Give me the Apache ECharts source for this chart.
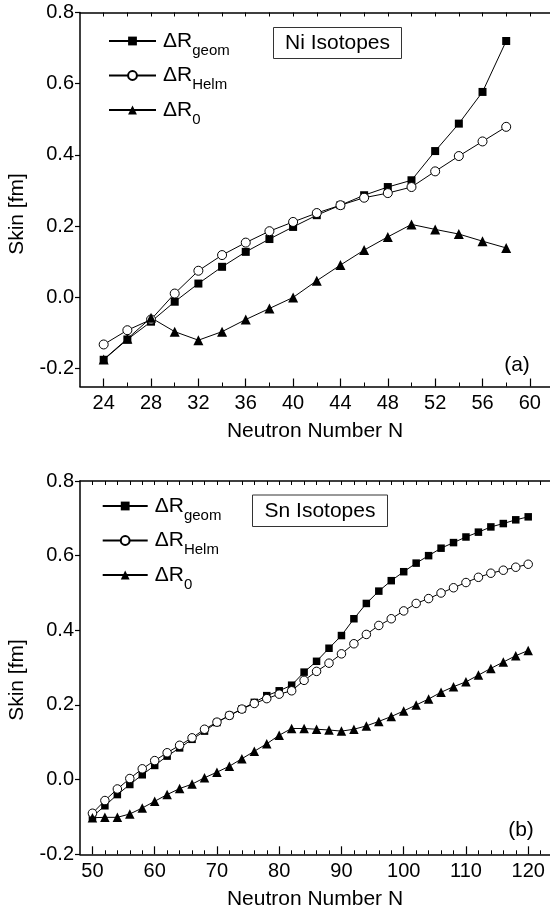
<!DOCTYPE html>
<html>
<head>
<meta charset="utf-8">
<script src="https://cdn.jsdelivr.net/npm/echarts@6/dist/echarts.min.js"></script>
<style>
  html, body { margin: 0; padding: 0; background: #fff; }
  #skin_chart { width: 550px; height: 920px; }
</style>
</head>
<body>
<div id="skin_chart"></div>
<script>
// Ni isotopes, panel (a)
var niN = [24, 26, 28, 30, 32, 34, 36, 38, 40, 42, 44, 46, 48, 50, 52, 54, 56, 58];
var niGeom = [-0.175, -0.118, -0.068, -0.012, 0.039, 0.086, 0.128, 0.164, 0.198, 0.231, 0.259, 0.287, 0.310, 0.329, 0.411, 0.488, 0.577, 0.720];
var niHelm = [-0.132, -0.092, -0.062, 0.011, 0.075, 0.119, 0.154, 0.186, 0.212, 0.237, 0.259, 0.280, 0.293, 0.310, 0.354, 0.397, 0.438, 0.479];
var niR0 = [-0.174, -0.116, -0.057, -0.096, -0.120, -0.096, -0.062, -0.031, 0.000, 0.047, 0.091, 0.133, 0.170, 0.205, 0.191, 0.178, 0.158, 0.139];

// Sn isotopes, panel (b)
var snN = [50, 52, 54, 56, 58, 60, 62, 64, 66, 68, 70, 72, 74, 76, 78, 80, 82, 84, 86, 88, 90, 92, 94, 96, 98, 100, 102, 104, 106, 108, 110, 112, 114, 116, 118, 120];
var snGeom = [-0.099, -0.070, -0.040, -0.013, 0.013, 0.038, 0.063, 0.085, 0.108, 0.130, 0.153, 0.172, 0.189, 0.207, 0.225, 0.238, 0.253, 0.288, 0.317, 0.352, 0.386, 0.431, 0.472, 0.505, 0.533, 0.557, 0.580, 0.600, 0.620, 0.635, 0.650, 0.663, 0.677, 0.686, 0.696, 0.704];
var snHelm = [-0.090, -0.056, -0.025, 0.003, 0.029, 0.051, 0.072, 0.092, 0.112, 0.135, 0.154, 0.172, 0.189, 0.204, 0.217, 0.229, 0.238, 0.266, 0.290, 0.312, 0.337, 0.364, 0.389, 0.413, 0.431, 0.452, 0.472, 0.485, 0.500, 0.514, 0.528, 0.542, 0.553, 0.561, 0.569, 0.577];
var snR0 = [-0.102, -0.101, -0.101, -0.092, -0.076, -0.058, -0.040, -0.024, -0.012, 0.005, 0.020, 0.036, 0.056, 0.076, 0.096, 0.119, 0.137, 0.137, 0.135, 0.133, 0.130, 0.135, 0.144, 0.156, 0.169, 0.184, 0.200, 0.216, 0.234, 0.249, 0.262, 0.280, 0.298, 0.315, 0.332, 0.346];

// tick labels
var niXMajor = [24, 28, 32, 36, 40, 44, 48, 52, 56, 60];
var niXMinor = [26, 30, 34, 38, 42, 46, 50, 54, 58];
var niXTop = [24, 26, 28, 30, 32, 34, 36, 38, 40, 42, 44, 46, 48, 50, 52, 54, 56, 58, 60];
var snXMajor = [50, 60, 70, 80, 90, 100, 110, 120];
var snXMinor = [52, 54, 56, 58, 62, 64, 66, 68, 72, 74, 76, 78, 82, 84, 86, 88, 92, 94, 96, 98, 102, 104, 106, 108, 112, 114, 116, 118, 122];
var snXTop = [50, 52, 54, 56, 58, 60, 62, 64, 66, 68, 70, 72, 74, 76, 78, 80, 82, 84, 86, 88, 90, 92, 94, 96, 98, 100, 102, 104, 106, 108, 110, 112, 114, 116, 118, 120, 122];
var yMajor = [-0.2, 0, 0.2, 0.4, 0.6, 0.8];
var yMinor = [-0.1, 0.1, 0.3, 0.5, 0.7];

var FONT = "'Liberation Sans', Arial, sans-serif";
var legendNames = {
  a_geom: "{m|ΔR}{s|geom}", a_helm: "{m|ΔR}{s|Helm}", a_r0: "{m|ΔR}{s|0}",
  b_geom: "{m|ΔR}{s|geom}", b_helm: "{m|ΔR}{s|Helm}", b_r0: "{m|ΔR}{s|0}",
};

var skin_chart = echarts.init(document.getElementById("skin_chart"));

function pairs(xs, ys) {
  return xs.map(function (x, i) { return [x, ys[i]]; });
}

// bottom axis with labels + major ticks
function xMain(grid, min, max, major) {
  return {
    type: "value", gridIndex: grid, position: "bottom", min: min, max: max,
    axisLine: { onZero: false, lineStyle: { color: "#000", width: 1.5 } },
    axisTick: { inside: true, length: 8, customValues: major, lineStyle: { color: "#000", width: 1.2 } },
    axisLabel: { customValues: major, color: "#000", fontSize: 20, fontFamily: FONT, margin: 7 },
    splitLine: { show: false },
    name: "Neutron Number N", nameLocation: "middle", nameGap: 34,
    nameTextStyle: { color: "#000", fontSize: 21, fontFamily: FONT },
  };
}
// extra axis only for short ticks
function xTicks(grid, min, max, vals, pos, showLine) {
  return {
    type: "value", gridIndex: grid, position: pos, min: min, max: max,
    axisLine: { show: showLine, onZero: false, lineStyle: { color: "#000", width: 1.5 } },
    axisTick: { inside: true, length: 4, customValues: vals, lineStyle: { color: "#000", width: 1 } },
    axisLabel: { show: false },
    splitLine: { show: false },
  };
}
function yMain(grid, min, max) {
  return {
    type: "value", gridIndex: grid, min: min, max: max,
    axisLine: { show: true, onZero: false, lineStyle: { color: "#000", width: 1.5 } },
    axisTick: { show: true, inside: false, length: 5, customValues: yMajor, lineStyle: { color: "#000", width: 1.2 } },
    axisLabel: {
      customValues: yMajor, color: "#000", fontSize: 20, fontFamily: FONT, margin: 6,
      formatter: function (v) { return v.toFixed(1); },
    },
    splitLine: { show: false },
  };
}
function yTicks(grid, min, max) {
  return {
    type: "value", gridIndex: grid, min: min, max: max,
    axisLine: { show: false, onZero: false },
    axisTick: { show: true, inside: false, length: 3, customValues: yMinor, lineStyle: { color: "#000", width: 1 } },
    axisLabel: { show: false },
    splitLine: { show: false },
  };
}

function line(name, xi, yi, data, symbol, size, hollow) {
  return {
    name: name, type: "line", xAxisIndex: xi, yAxisIndex: yi, data: data,
    symbol: symbol, symbolSize: size, showAllSymbol: true,
    lineStyle: { color: "#000", width: 1 },
    itemStyle: hollow ? { color: "#fff", borderColor: "#000", borderWidth: 1 } : { color: "#000", borderColor: "#000", borderWidth: 0 },
    emphasis: { disabled: true },
  };
}

var rich = {
  m: { fontSize: 21, fontFamily: FONT, color: "#000", lineHeight: 34, padding: [0, 0, 0, 2] },
  s: { fontSize: 15, fontFamily: FONT, color: "#000", lineHeight: 12, verticalAlign: "bottom" },
};
function legendOf(names, left, top, w) {
  return {
    data: names, orient: "vertical", left: left, top: top, padding: 0,
    itemWidth: w, itemHeight: 11, itemGap: 7, selectedMode: false,
    formatter: function (n) { return legendNames[n]; },
    textStyle: { rich: rich },
  };
}

var option = {
  animation: false,
  backgroundColor: "#fff",
  grid: [
    { left: 80, right: 0, top: 12.5, height: 374 },
    { left: 80, right: 0, top: 481, height: 373.3 },
  ],
  xAxis: [
    xMain(0, 22, 61.7, niXMajor),
    xTicks(0, 22, 61.7, niXMinor, "bottom", false),
    xTicks(0, 22, 61.7, niXTop, "top", true),
    xMain(1, 48, 123.5, snXMajor),
    xTicks(1, 48, 123.5, snXMinor, "bottom", false),
    xTicks(1, 48, 123.5, snXTop, "top", true),
  ],
  yAxis: [
    yMain(0, -0.25, 0.8),
    yTicks(0, -0.25, 0.8),
    yMain(1, -0.2, 0.8),
    yTicks(1, -0.2, 0.8),
  ],
  legend: [
    legendOf(["a_geom", "a_helm", "a_r0"], 108, 30.5, 47),
    legendOf(["b_geom", "b_helm", "b_r0"], 101.7, 495.5, 45),
  ],
  series: [
    line("a_geom", 0, 0, pairs(niN, niGeom), "rect", 8, false),
    line("a_helm", 0, 0, pairs(niN, niHelm), "circle", 9, true),
    line("a_r0", 0, 0, pairs(niN, niR0), "triangle", 10, false),
    line("b_geom", 3, 2, pairs(snN, snGeom), "rect", 7.5, false),
    line("b_helm", 3, 2, pairs(snN, snHelm), "circle", 8.5, true),
    line("b_r0", 3, 2, pairs(snN, snR0), "triangle", 9.5, false),
  ],
  graphic: [
    { type: "rect", shape: { x: 273.5, y: 27.5, width: 128, height: 31 }, style: { fill: "#fff", stroke: "#333", lineWidth: 1 } },
    { type: "text", x: 337.5, y: 43, style: { text: "Ni Isotopes", fontSize: 21, fontFamily: FONT, fill: "#000", align: "center", verticalAlign: "middle" } },
    { type: "rect", shape: { x: 252.5, y: 495, width: 135, height: 31.5 }, style: { fill: "#fff", stroke: "#333", lineWidth: 1 } },
    { type: "text", x: 320, y: 511, style: { text: "Sn Isotopes", fontSize: 21, fontFamily: FONT, fill: "#000", align: "center", verticalAlign: "middle" } },
    { type: "text", x: 517, y: 365, style: { text: "(a)", fontSize: 21, fontFamily: FONT, fill: "#000", align: "center", verticalAlign: "middle" } },
    { type: "text", x: 521, y: 830, style: { text: "(b)", fontSize: 21, fontFamily: FONT, fill: "#000", align: "center", verticalAlign: "middle" } },
    { type: "text", x: 17, y: 214, rotation: Math.PI / 2, style: { text: "Skin [fm]", fontSize: 21, fontFamily: FONT, fill: "#000", align: "center", verticalAlign: "middle" } },
    { type: "text", x: 17, y: 680, rotation: Math.PI / 2, style: { text: "Skin [fm]", fontSize: 21, fontFamily: FONT, fill: "#000", align: "center", verticalAlign: "middle" } },
  ],
};

skin_chart.setOption(option);
</script>
</body>
</html>
